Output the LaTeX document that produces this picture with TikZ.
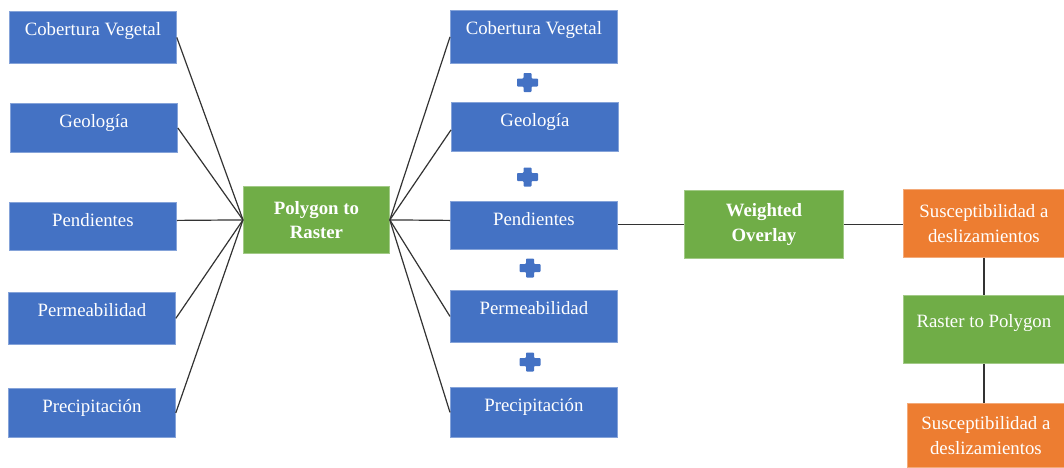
\documentclass[tikz,border=0pt]{standalone}
\usepackage{fontspec}
\setmainfont{Liberation Serif}
\definecolor{boxblue}{HTML}{4472C4}
\definecolor{boxgreen}{HTML}{70AD47}
\definecolor{boxorange}{HTML}{ED7D31}
\begin{document}
\begin{tikzpicture}[x=1pt,y=-1pt,
  base/.style={anchor=north west, inner xsep=0pt, inner ysep=0pt, text=white,
    font=\fontsize{18.8pt}{24.5pt}\selectfont, line width=0.8pt},
  bluebox/.style={base, fill=boxblue, draw=boxblue!65!white, text height=24.5pt, minimum width=167pt},
  greenbox/.style={base, fill=boxgreen, draw=boxgreen!65!white, align=center},
  orangebox/.style={base, fill=boxorange, draw=boxorange!65!white, align=center},
  link/.style={draw=black!80, line width=1.2pt},
  plussign/.style={fill=boxblue, rounded corners=0.8pt}
]
\useasboundingbox (0,0) rectangle (1064,467);

% left column
\node[bluebox, text depth=27.5pt] (lc) at (9,11) {Cobertura Vegetal};
\node[bluebox, text depth=24.5pt] (lg) at (10,103) {Geología};
\node[bluebox, text depth=23.5pt] (lp) at (9,202) {Pendientes};
\node[bluebox, text depth=27.5pt] (lpe) at (8,292) {Permeabilidad};
\node[bluebox, text depth=24.5pt] (lpr) at (8,388) {Precipitación};

% polygon to raster
\node[greenbox, minimum width=146pt, minimum height=67pt] (pr) at (243,186)
  {\textbf{Polygon to}\\\textbf{Raster}};

% middle column
\node[bluebox, text depth=28.5pt] (mc) at (450,10) {Cobertura Vegetal};
\node[bluebox, text depth=24.5pt] (mg) at (451,102) {Geología};
\node[bluebox, text depth=23.5pt] (mp) at (450,201) {Pendientes};
\node[bluebox, text depth=27.5pt] (mpe) at (450,290) {Permeabilidad};
\node[bluebox, text depth=25.5pt] (mpr) at (450,387) {Precipitación};

% plus signs
\foreach \cx/\cy in {527.5/82.5, 527.5/177, 530/268, 530/362}{
  \fill[plussign] (\cx-10.5,\cy-4) -- (\cx-4,\cy-4) -- (\cx-4,\cy-9.5) -- (\cx+4,\cy-9.5)
    -- (\cx+4,\cy-4) -- (\cx+10.5,\cy-4) -- (\cx+10.5,\cy+4) -- (\cx+4,\cy+4)
    -- (\cx+4,\cy+9.5) -- (\cx-4,\cy+9.5) -- (\cx-4,\cy+4) -- (\cx-10.5,\cy+4) -- cycle;
}

% right part
\node[greenbox, minimum width=159pt, minimum height=68pt] (wo) at (684,190)
  {\textbf{Weighted}\\\textbf{Overlay}};
\node[orangebox, minimum width=161pt, minimum height=68pt] (o1) at (903,189)
  {Susceptibilidad a\\deslizamientos};
\node[greenbox, minimum width=161pt, text height=32.5pt, text depth=35.5pt] (rp) at (903,295)
  {Raster to Polygon};
\node[orangebox, minimum width=157pt, minimum height=64pt] (o2) at (907,403)
  {Susceptibilidad a\\deslizamientos};

% connectors
\draw[link] (lc.east) -- (pr.west);
\draw[link] (lg.east) -- (pr.west);
\draw[link] ([yshift=6pt]lp.east) -- (pr.west);
\draw[link] (lpe.east) -- (pr.west);
\draw[link] (lpr.east) -- (pr.west);

\draw[link] (pr.east) -- (mc.west);
\draw[link] (pr.east) -- ([yshift=-3pt]mg.west);
\draw[link] (pr.east) -- ([yshift=5pt]mp.west);
\draw[link] (pr.east) -- (mpe.west);
\draw[link] (pr.east) -- (mpr.west);

\draw[link] (wo.west) -- (wo.west -| mp.east);
\draw[link] (wo.east) -- (wo.east -| o1.west);
\draw[link] (o1.south) -- (rp.north);
\draw[link] (rp.south) -- (rp.south |- o2.north);
\end{tikzpicture}
\end{document}
